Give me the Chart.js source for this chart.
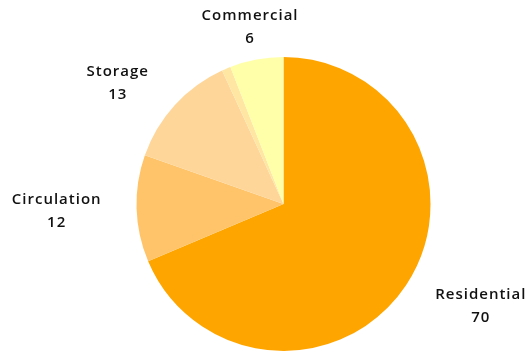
<!DOCTYPE html>
<html>
<head>
<meta charset="utf-8">
<script src="https://cdn.jsdelivr.net/npm/chart.js@4"></script>
<style>
  html, body { margin: 0; padding: 0; background: #fff; }
  #wrap { width: 531px; height: 352px; }
</style>
</head>
<body>
<div id="wrap"><canvas id="pie"></canvas></div>
<script>
// DATA
const categories = ['Residential', 'Circulation', 'Storage', '', 'Commercial'];
const areaShares = [70, 12, 13, 1, 6];
const sliceColors = ['#FFA500', '#FFC469', '#FFD699', '#FFE7A3', '#FFFFAA'];

// labels sit outside the pie along each slice's middle angle
const outerLabels = {
  id: 'outerLabels',
  afterDatasetsDraw(chart) {
    const ctx = chart.ctx;
    const meta = chart.getDatasetMeta(0);
    ctx.save();
    ctx.font = '600 15px "Open Sans"';
    ctx.letterSpacing = '1px';
    ctx.fillStyle = '#111';
    ctx.textBaseline = 'middle';
    meta.data.forEach((arc, i) => {
      if (!categories[i]) return;
      const mid = (arc.startAngle + arc.endAngle) / 2;
      const dist = arc.outerRadius + 35;
      const cos = Math.cos(mid), sin = Math.sin(mid);
      const px = arc.x + cos * dist;
      const py = arc.y + sin * dist;
      ctx.textAlign = Math.abs(cos) < 0.3 ? 'center' : (cos > 0 ? 'left' : 'right');
      const lines = [categories[i], String(areaShares[i])];
      const texts = lines.map(t => ctx.measureText(t).width);
      const boxW = Math.max(...texts);
      lines.forEach((t, k) => {
        let x = px;
        // centre each line inside the label block
        if (ctx.textAlign === 'left') x = px + (boxW - texts[k]) / 2;
        if (ctx.textAlign === 'right') x = px - (boxW - texts[k]) / 2;
        ctx.fillText(t, x, py - 9.5 + k * 23);
      });
    });
    ctx.restore();
  }
};

new Chart(document.getElementById('pie'), {
  type: 'pie',
  data: {
    labels: categories,
    datasets: [{
      data: areaShares,
      backgroundColor: sliceColors,
      borderWidth: 0
    }]
  },
  options: {
    responsive: true,
    maintainAspectRatio: false,
    animation: false,
    layout: { padding: { top: 57, bottom: 1, left: 136.5, right: 100.5 } },
    plugins: {
      legend: { display: false },
      tooltip: { enabled: false }
    }
  },
  plugins: [outerLabels]
});
</script>
</body>
</html>
